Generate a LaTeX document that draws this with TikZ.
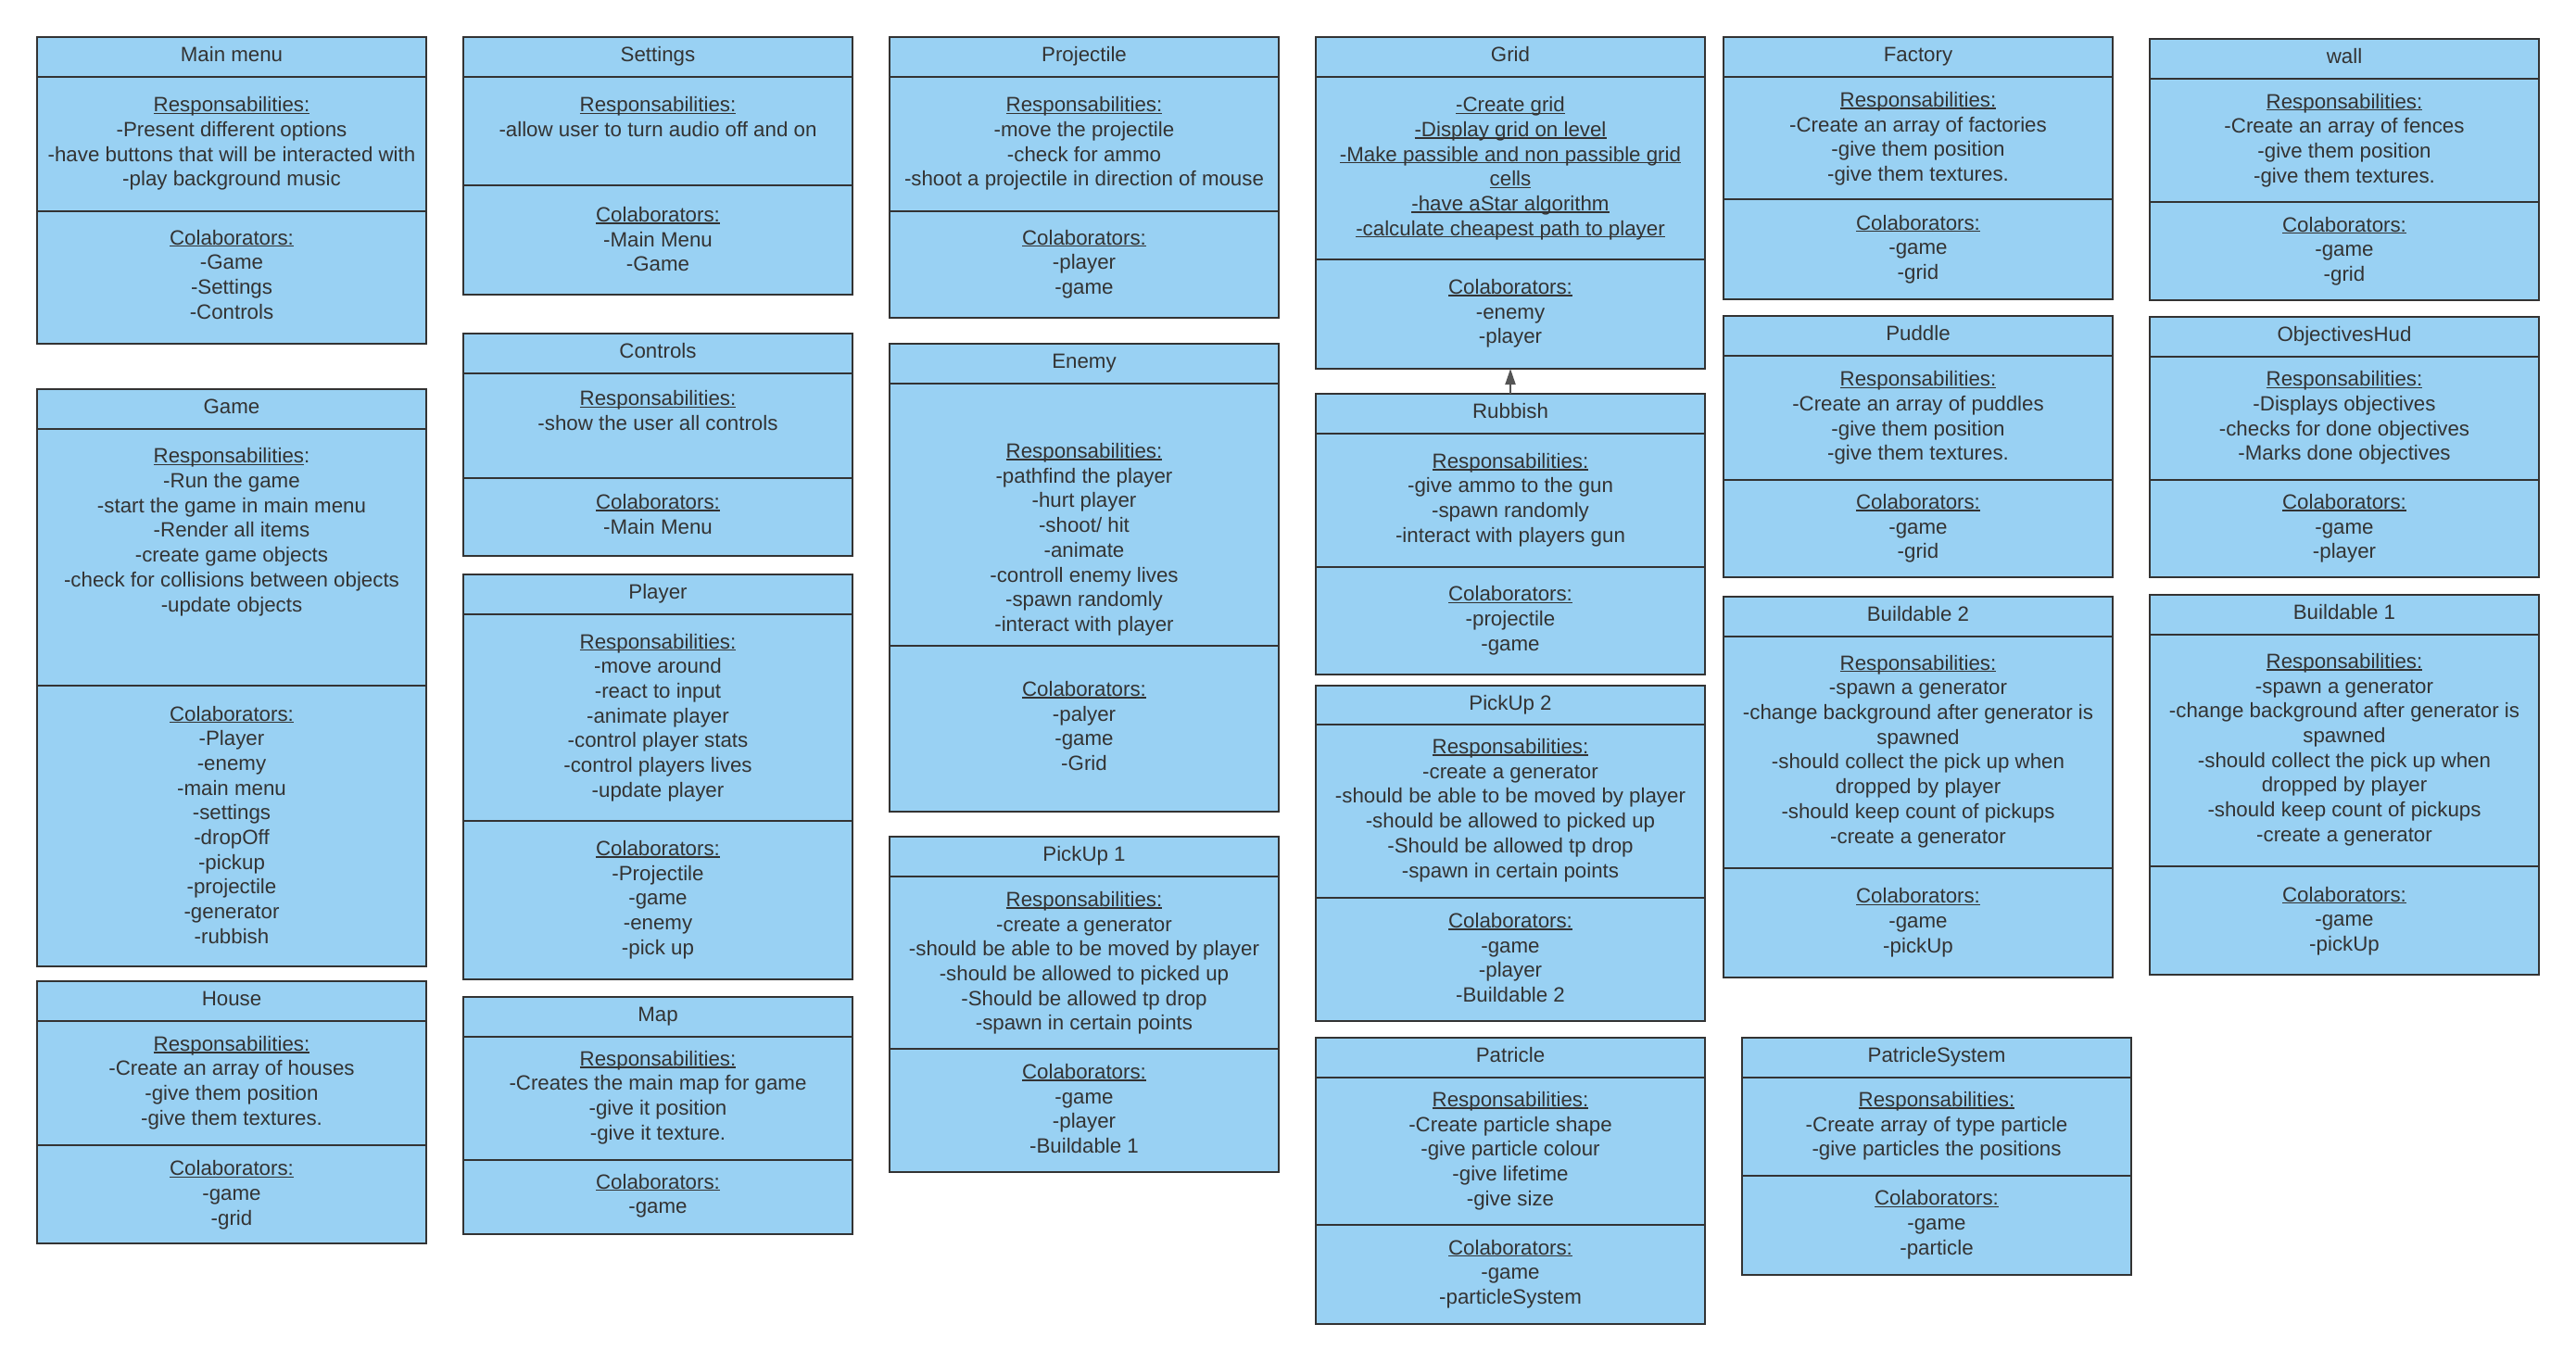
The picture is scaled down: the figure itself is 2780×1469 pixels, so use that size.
\documentclass[tikz,border=0pt]{standalone}
\usepackage{fontspec}
\setmainfont{Liberation Sans}
\usetikzlibrary{arrows.meta}
\definecolor{cardfill}{RGB}{153,209,243}
\definecolor{ink}{RGB}{51,51,51}
\definecolor{arrowgray}{RGB}{85,85,85}
\newsavebox\ulbox
\newcommand\ulx[1]{\sbox\ulbox{#1}\rlap{\rule[-0.1em]{\wd\ulbox}{0.06em}}\usebox\ulbox}
\newcommand\rs{\ulx{Responsabilities:}}
\newcommand\cb{\ulx{Colaborators:}}
\newcommand\bodyfont{\fontsize{11.15pt}{13.35pt}\selectfont}
\tikzset{
  cardbox/.style={draw=ink, fill=cardfill, line width=1pt, inner sep=0pt, outer sep=0pt, minimum width=210pt},
  divider/.style={draw=ink, line width=1pt},
  titletext/.style={inner sep=0pt, font=\bodyfont, text=ink},
  bodytext/.style={inner sep=0pt, align=center, font=\bodyfont, text=ink, execute at begin node=\strut},
  linkarrow/.style={draw=arrowgray, line width=1pt, -{Triangle[length=8.5pt,width=5.5pt]}}
}
% name, x-left, y-top, y-header, y-divider, y-bottom, title
\newcommand\card[7]{%
  \pgfmathsetmacro\cx{#2+210}%
  \pgfmathsetmacro\ch{(#6-#3)*0.5}%
  \node[cardbox, minimum height=\ch pt, anchor=north west] (#1) at (#2,#3) {};
  \draw[divider] (#2,#4) -- ++(420,0);
  \draw[divider] (#2,#5) -- ++(420,0);
  \node[titletext, anchor=base] (#1-title) at (\cx,#3+26) {#7};
}
\newcommand\ctext[3]{\node[bodytext, anchor=north] (#1) at (\cx,#2-8.5) {#3};}
\begin{document}
\begin{tikzpicture}[x=0.5pt, y=-0.5pt]
\useasboundingbox (0,0) rectangle (2780,1469);

% Column 1
\card{mainmenu}{40}{40}{83}{228}{371}{Main menu}
\ctext{mainmenu-resp}{112.6}{\rs\\-Present different options\\-have buttons that will be interacted with\\-play background music}
\ctext{mainmenu-collab}{256.2}{\cb\\-Game\\-Settings\\-Controls}

\card{game}{40}{420}{463}{740}{1043}{Game}
\ctext{game-resp}{491.8}{\ulx{Responsabilities}:\\-Run the game\\-start the game in main menu\\-Render all items\\-create game objects\\-check for collisions between objects\\-update objects}
\ctext{game-collab}{770}{\cb\\-Player\\-enemy\\-main menu\\-settings\\-dropOff\\-pickup\\-projectile\\-generator\\-rubbish}

\card{house}{40}{1059}{1102}{1236}{1342}{House}
\ctext{house-resp}{1126.2}{\rs\\-Create an array of houses\\-give them position\\-give them textures.}
\ctext{house-collab}{1260.9}{\cb\\-game\\-grid}

% Column 2
\card{settings}{500}{40}{83}{200}{318}{Settings}
\ctext{settings-resp}{112.6}{\rs\\-allow user to turn audio off and on}
\ctext{settings-collab}{231.4}{\cb\\-Main Menu\\-Game}

\card{controls}{500}{360}{403}{516}{600}{Controls}
\ctext{controls-resp}{429.8}{\rs\\-show the user all controls}
\ctext{controls-collab}{541.5}{\cb\\-Main Menu}

\card{player}{500}{620}{663}{886}{1057}{Player}
\ctext{player-resp}{692.1}{\rs\\-move around\\-react to input\\-animate player\\-control player stats\\-control players lives\\-update player}
\ctext{player-collab}{915.4}{\cb\\-Projectile\\-game\\-enemy\\-pick up}

\card{map}{500}{1076}{1119}{1252}{1332}{Map}
\ctext{map-resp}{1142.2}{\rs\\-Creates the main map for game\\-give it position\\-give it texture.}
\ctext{map-collab}{1275.1}{\cb\\-game}

% Column 3
\card{projectile}{960}{40}{83}{228}{343}{Projectile}
\ctext{projectile-resp}{112.6}{\rs\\-move the projectile\\-check for ammo\\-shoot a projectile in direction of mouse}
\ctext{projectile-collab}{256.2}{\cb\\-player\\-game}

\card{enemy}{960}{371}{414}{697}{876}{Enemy}
\ctext{enemy-resp}{486.5}{\rs\\-pathfind the player\\-hurt player\\-shoot/ hit\\-animate\\-controll enemy lives\\-spawn randomly\\-interact with player}
\ctext{enemy-collab}{743.5}{\cb\\-palyer\\-game\\-Grid}

\card{pickupone}{960}{903}{946}{1132}{1265}{PickUp 1}
\ctext{pickupone-resp}{970.3}{\rs\\-create a generator\\-should be able to be moved by player\\-should be allowed to picked up\\-Should be allowed tp drop\\-spawn in certain points}
\ctext{pickupone-collab}{1156.3}{\cb\\-game\\-player\\-Buildable 1}

% Column 4
\card{grid}{1420}{40}{83}{280}{398}{Grid}
\ctext{grid-resp}{112.6}{\ulx{-Create grid}\\\ulx{-Display grid on level}\\\ulx{-Make passible and non passible grid}\\\ulx{cells}\\\ulx{-have aStar algorithm}\\\ulx{-calculate cheapest path to player}}
\ctext{grid-collab}{309.3}{\cb\\-enemy\\-player}

\card{rubbish}{1420}{425}{468}{612}{728}{Rubbish}
\ctext{rubbish-resp}{497.2}{\rs\\-give ammo to the gun\\-spawn randomly\\-interact with players gun}
\ctext{rubbish-collab}{640.7}{\cb\\-projectile\\-game}

\card{pickuptwo}{1420}{740}{782}{969}{1102}{PickUp 2}
\ctext{pickuptwo-resp}{805.5}{\rs\\-create a generator\\-should be able to be moved by player\\-should be allowed to picked up\\-Should be allowed tp drop\\-spawn in certain points}
\ctext{pickuptwo-collab}{993.3}{\cb\\-game\\-player\\-Buildable 2}

\card{patricle}{1420}{1120}{1163}{1322}{1429}{Patricle}
\ctext{patricle-resp}{1186.5}{\rs\\-Create particle shape\\-give particle colour\\-give lifetime\\-give size}
\ctext{patricle-collab}{1346}{\cb\\-game\\-particleSystem}

% Column 5
\card{factory}{1860}{40}{83}{215}{323}{Factory}
\ctext{factory-resp}{107.3}{\rs\\-Create an array of factories\\-give them position\\-give them textures.}
\ctext{factory-collab}{240.2}{\cb\\-game\\-grid}

\card{puddle}{1860}{341}{384}{518}{623}{Puddle}
\ctext{puddle-resp}{408.6}{\rs\\-Create an array of puddles\\-give them position\\-give them textures.}
\ctext{puddle-collab}{541.5}{\cb\\-game\\-grid}

\card{buildtwo}{1860}{644}{687}{937}{1055}{Buildable 2}
\ctext{buildtwo-resp}{715.1}{\rs\\-spawn a generator\\-change background after generator is\\spawned\\-should collect the pick up when\\dropped by player\\-should keep count of pickups\\-create a generator}
\ctext{buildtwo-collab}{966.7}{\cb\\-game\\-pickUp}

\card{psystem}{1880}{1120}{1163}{1269}{1376}{PatricleSystem}
\ctext{psystem-resp}{1186.5}{\rs\\-Create array of type particle\\-give particles the positions}
\ctext{psystem-collab}{1292.8}{\cb\\-game\\-particle}

% Column 6
\card{wall}{2320}{42}{85}{218}{324}{wall}
\ctext{wall-resp}{109.1}{\rs\\-Create an array of fences\\-give them position\\-give them textures.}
\ctext{wall-collab}{242}{\cb\\-game\\-grid}

\card{objhud}{2320}{342}{385}{518}{623}{ObjectivesHud}
\ctext{objhud-resp}{408.6}{\rs\\-Displays objectives\\-checks for done objectives\\-Marks done objectives}
\ctext{objhud-collab}{541.5}{\cb\\-game\\-player}

\card{buildone}{2320}{642}{685}{935}{1052}{Buildable 1}
\ctext{buildone-resp}{713.3}{\rs\\-spawn a generator\\-change background after generator is\\spawned\\-should collect the pick up when\\dropped by player\\-should keep count of pickups\\-create a generator}
\ctext{buildone-collab}{965}{\cb\\-game\\-pickUp}

% Connector
\draw[linkarrow] (rubbish.north) -- (grid.south);
\end{tikzpicture}
\end{document}
